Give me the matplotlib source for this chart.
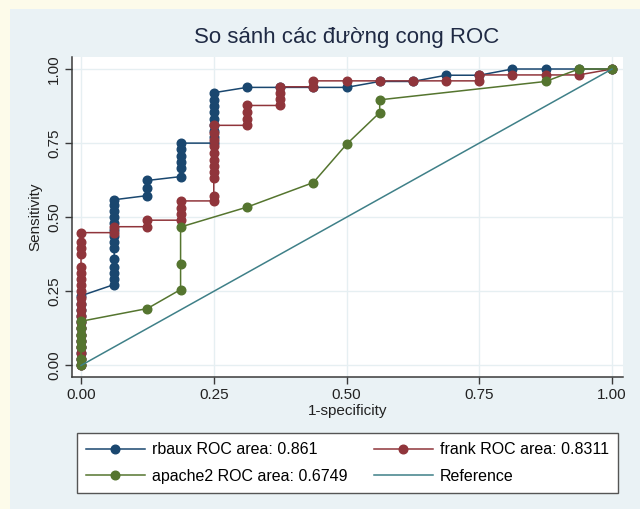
import matplotlib

matplotlib.use("Agg")
import matplotlib.pyplot as plt  # noqa: E402
from matplotlib.patches import Rectangle  # noqa: E402

plt.rcParams["font.family"] = ["Liberation Sans", "DejaVu Sans"]

# ROC points (1-specificity, sensitivity)
rbaux_fpr = [0, 0, 0, 0, 0, 0, 0, 0, 0, 0, 0, 0,
             0.0625, 0.0625, 0.0625, 0.0625, 0.0625, 0.0625, 0.0625, 0.0625, 0.0625, 0.0625, 0.0625, 0.0625, 0.0625,
             0.0625, 0.125, 0.125, 0.125, 0.1875, 0.1875, 0.1875, 0.1875, 0.1875, 0.1875,
             0.25, 0.25, 0.25, 0.25, 0.25, 0.25, 0.25, 0.25, 0.25,
             0.3125, 0.375, 0.4375, 0.5, 0.5625, 0.625, 0.6875, 0.75, 0.8125, 0.875, 0.9375, 1.0]
rbaux_tpr = [0, 0.021, 0.042, 0.0625, 0.083, 0.104, 0.125, 0.146, 0.167, 0.1875, 0.208, 0.235,
             0.273, 0.292, 0.3125, 0.333, 0.36, 0.396, 0.417, 0.4375, 0.458, 0.479, 0.5, 0.521, 0.542,
             0.559, 0.573, 0.598, 0.624, 0.637, 0.667, 0.6875, 0.708, 0.729, 0.75,
             0.75, 0.771, 0.792, 0.8125, 0.833, 0.854, 0.875, 0.896, 0.92,
             0.938, 0.938, 0.938, 0.938, 0.958, 0.958, 0.979, 0.979, 1.0, 1.0, 1.0, 1.0]

frank_fpr = [0, 0, 0, 0, 0, 0, 0, 0, 0, 0, 0, 0, 0, 0, 0, 0, 0, 0, 0, 0, 0,
             0.0625, 0.0625, 0.125, 0.125, 0.1875, 0.1875, 0.1875, 0.1875,
             0.25, 0.25, 0.25, 0.25, 0.25, 0.25, 0.25, 0.25, 0.25, 0.25, 0.25,
             0.3125, 0.3125, 0.3125, 0.3125, 0.375, 0.375, 0.375, 0.375, 0.4375, 0.4375,
             0.5, 0.5625, 0.625, 0.6875, 0.75, 0.75, 0.8125, 0.875, 0.9375, 1.0]
frank_tpr = [0, 0.021, 0.042, 0.0625, 0.083, 0.104, 0.125, 0.146, 0.167, 0.1875, 0.208, 0.229, 0.25,
             0.271, 0.292, 0.3125, 0.333, 0.375, 0.396, 0.417, 0.448,
             0.448, 0.468, 0.468, 0.49, 0.49, 0.51, 0.532, 0.555,
             0.555, 0.572, 0.632, 0.652, 0.673, 0.694, 0.718, 0.74, 0.76, 0.785, 0.81,
             0.81, 0.833, 0.854, 0.877, 0.877, 0.898, 0.92, 0.94, 0.94, 0.96,
             0.96, 0.96, 0.96, 0.96, 0.96, 0.98, 0.98, 0.98, 0.98, 1.0]

apache2_fpr = [0, 0, 0, 0, 0, 0, 0, 0.125, 0.1875, 0.1875, 0.1875, 0.3125, 0.4375, 0.5,
               0.5625, 0.5625, 0.875, 0.9375, 1.0]
apache2_tpr = [0, 0.021, 0.062, 0.083, 0.104, 0.125, 0.149, 0.192, 0.256, 0.342, 0.467, 0.534,
               0.617, 0.746, 0.853, 0.896, 0.958, 1.0, 1.0]

ref_x = [0, 1]
ref_y = [0, 1]

labels = ["rbaux ROC area: 0.861", "frank ROC area: 0.8311", "apache2 ROC area: 0.6749", "Reference"]
colors = ["#1a476f", "#90353b", "#55752f", "#3f8088"]
ticks = [0.0, 0.25, 0.5, 0.75, 1.0]
tick_labels = ["0.00", "0.25", "0.50", "0.75", "1.00"]

fig = plt.figure(figsize=(6.4, 5.09), dpi=100, facecolor="#fdfbea")
fig.patches.append(Rectangle((10 / 640, 0), 1, 1 - 9 / 509, transform=fig.transFigure,
                             facecolor="#eaf2f5", edgecolor="none", zorder=-10))

ax = fig.add_axes([72 / 640, 1 - 377 / 509, 551 / 640, 320 / 509])
ax.set_zorder(2)
ax.set_facecolor("white")
ax.set_xlim(-0.017, 1.0207)
ax.set_ylim(-0.039, 1.0405)

series = [(rbaux_fpr, rbaux_tpr), (frank_fpr, frank_tpr), (apache2_fpr, apache2_tpr)]
handles = []
for (xs, ys), color, label in zip(series, colors[:3], labels[:3]):
    (h,) = ax.plot(xs, ys, color=color, lw=1.1, marker="o", ms=6.2, mec=color, mfc=color, label=label)
    handles.append(h)
(h,) = ax.plot(ref_x, ref_y, color=colors[3], lw=1.1, label=labels[3])
handles.append(h)

ax.set_xticks(ticks)
ax.set_xticklabels(tick_labels)
ax.set_yticks(ticks)
ax.set_yticklabels(tick_labels, rotation=90, va="center")
ax.grid(True, color="#e6eff2", lw=1.0)
ax.set_axisbelow(True)
for side in ["top", "right"]:
    ax.spines[side].set_visible(False)
for side in ["left", "bottom"]:
    ax.spines[side].set_color("#3a3a3a")
    ax.spines[side].set_linewidth(1.1)
ax.tick_params(axis="both", direction="out", length=5, width=1, color="#3a3a3a",
               labelsize=11, labelcolor="#222222", pad=3)
ax.set_xlabel("1-specificity", fontsize=11, color="#222222", labelpad=1)
ax.set_ylabel("Sensitivity", fontsize=11, color="#222222", labelpad=3)

fig.text(347 / 640, 1 - 38 / 509, "So sánh các đường cong ROC", ha="center", va="center",
         fontsize=16, color="#1f2a44")

# legend fills row by row: rbaux, frank / apache2, Reference
order = [handles[0], handles[2], handles[1], handles[3]]
leg = fig.legend(order, [hh.get_label() for hh in order], ncol=2,
                 bbox_to_anchor=(77 / 640, 1 - 492 / 509, 541 / 640, 58 / 509),
                 loc="center", mode="expand", fontsize=11.5, frameon=True, fancybox=False,
                 edgecolor="#555555", framealpha=1, handlelength=3.7, handletextpad=0.45,
                 labelspacing=0.72, borderpad=0.55, borderaxespad=0)
leg.get_frame().set_linewidth(1.0)

fig.savefig("out.png", dpi=100, facecolor=fig.get_facecolor())
